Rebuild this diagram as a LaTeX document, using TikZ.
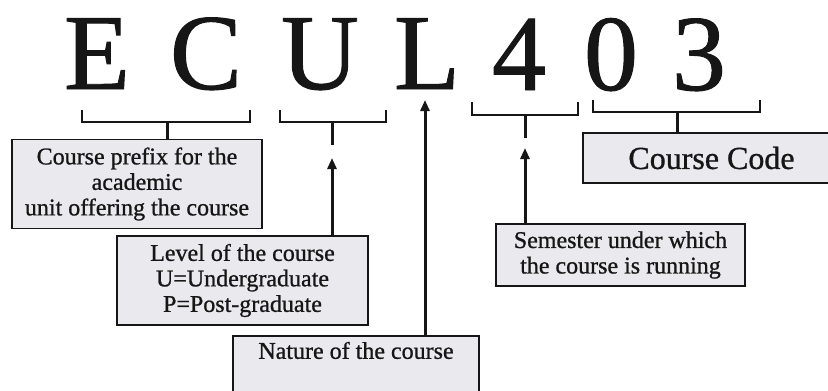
\documentclass[tikz,border=0pt]{standalone}
\usepackage{fontspec}
\setmainfont{Liberation Serif}[FakeBold=0.9]
\usetikzlibrary{arrows.meta}
\definecolor{boxfill}{RGB}{234,234,238}
\definecolor{ink}{RGB}{22,22,22}
\tikzset{
  bigletter/.style={anchor=base, inner sep=0pt, font=\fontsize{108}{110}\selectfont, text=ink},
  infobox/.style={draw=ink, line width=1.6pt, fill=boxfill, inner sep=0pt, align=center,
     font=\fontsize{24}{25.5}\selectfont, text=ink},
  bracket/.style={draw=ink, line width=2.4pt, line join=miter},
  stem/.style={draw=ink, line width=3pt},
  uparrow/.style={draw=ink, line width=3pt, -{Triangle[width=9pt,length=11pt]}}
}
\begin{document}
\begin{tikzpicture}[x=1pt,y=-1pt]
\useasboundingbox (0,0) rectangle (828,391);
\clip (0,0) rectangle (828,391);
\fill[white] (0,0) rectangle (828,391);
% big letters
\node[bigletter] (lE) at (97,89) {E};
\node[bigletter] (lC) at (206,89) {C};
\node[bigletter] (lU) at (320,89) {U};
\node[bigletter] (lL) at (427,89) {L};
\node[bigletter] (l4) at (519,90) {4};
\node[bigletter] (l0) at (611,90) {0};
\node[bigletter] (l3) at (699,90) {3};
% boxes
\node[infobox, minimum width=250pt, minimum height=89pt] (pre) at (137,184)
  {Course prefix for the\\academic\\unit offering the course};
\node[infobox, minimum width=251pt, minimum height=89pt] (lev) at (242.5,280.5)
  {Level of the course\\U=Undergraduate\\P=Post-graduate};
\node[infobox, minimum width=249pt, minimum height=62pt] (sem) at (620.5,255)
  {Semester under which\\the course is running};
\node[infobox, minimum width=257pt, minimum height=50pt, font=\fontsize{32}{34}\selectfont] (code) at (711.5,158)
  {Course Code};
\node[infobox, minimum width=246pt, anchor=north, text height=19pt, text depth=70pt, inner ysep=4pt] (nat) at (356,335)
  {Nature of the course};
% brackets
\coordinate (b1s) at (167,122);
\coordinate (b2s) at (332,122);
\coordinate (b2e) at (332,145);
\coordinate (b3s) at (525,115);
\coordinate (b3e) at (525,138);
\coordinate (b4s) at (677,112);
\coordinate (lt) at (425,100);
\draw[bracket] (82,110) -- (82,122) -- (250,122) -- (250,110);
\draw[bracket] (280,110) -- (280,122) -- (386,122) -- (386,110);
\draw[bracket] (472,102) -- (472,115) -- (578,115) -- (578,102);
\draw[bracket] (593,100) -- (593,112) -- (760,112) -- (760,100);
% stems
\draw[stem] (b1s) -- (b1s |- pre.north);
\draw[stem] (b2s) -- (b2e);
\draw[stem] (b3s) -- (b3e);
\draw[stem] (b4s) -- (b4s |- code.north);
% arrows
\draw[uparrow] (lev.north -| b2s) -- (332,158);
\draw[uparrow] (sem.north -| b3s) -- (525,148);
\draw[uparrow] (nat.north -| lt) -- (lt);
\end{tikzpicture}
\end{document}
